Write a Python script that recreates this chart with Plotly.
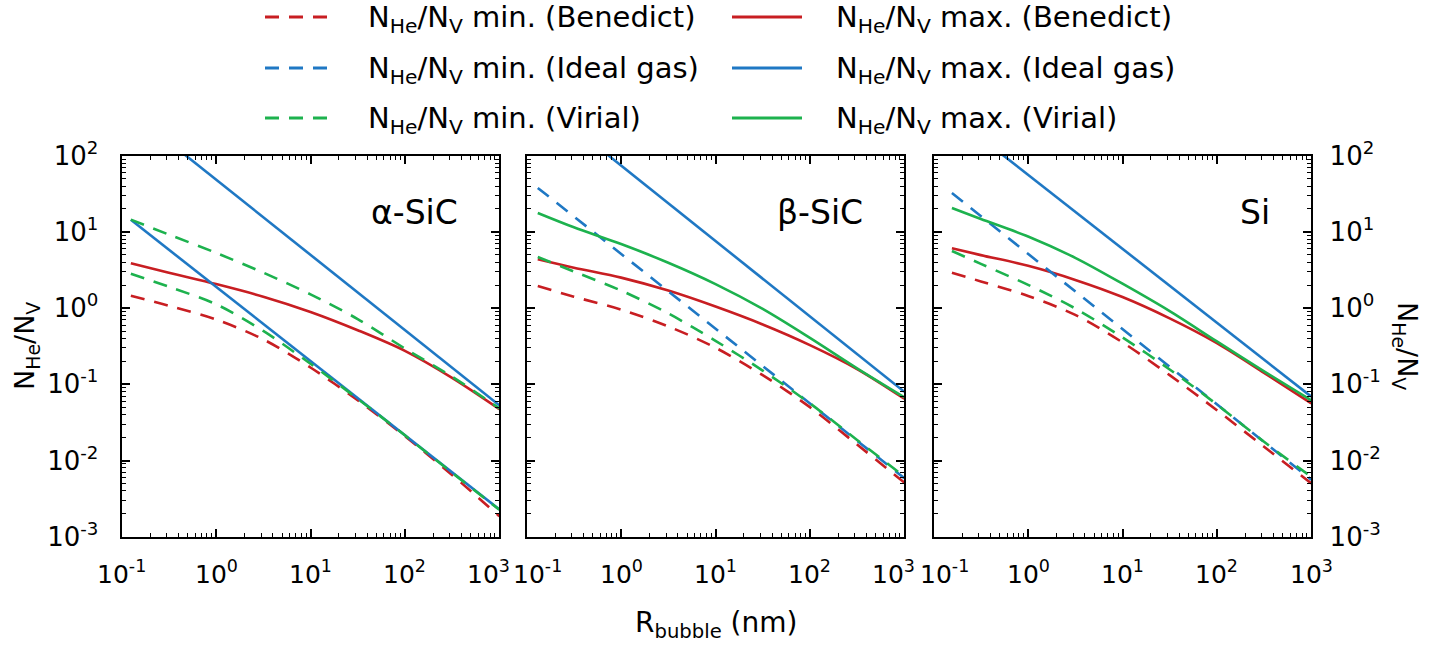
import math
import plotly.graph_objects as go

# ---------------- data ----------------
materials = ["α-SiC", "β-SiC", "Si"]

# bubble radius grid (nm) per panel
r_alpha = [0.125, 0.316, 1, 3.16, 10, 31.6, 100, 316, 1000]
r_beta = [0.131, 0.316, 1, 3.16, 10, 31.6, 100, 316, 1000]
r_si = [0.156, 0.316, 1, 3.16, 10, 31.6, 100, 316, 1000]

# alpha-SiC
benedict_min_alpha = [1.449, 1.072, 0.708, 0.389, 0.166, 0.0617, 0.0209, 0.00646, 0.00186]
benedict_max_alpha = [3.890, 2.917, 2.065, 1.413, 0.891, 0.513, 0.275, 0.1216, 0.0473]
virial_min_alpha = [2.831, 1.905, 1.122, 0.501, 0.186, 0.0646, 0.0214, 0.00692, 0.00226]
virial_max_alpha = [14.49, 9.226, 5.309, 2.917, 1.514, 0.719, 0.295, 0.1259, 0.0484]
ideal_r_alpha = [0.125, 1000]
ideal_min_alpha = [14.4, 0.00228]
ideal_max_alpha = [377.6, 0.0531]

# beta-SiC
benedict_min_beta = [1.950, 1.413, 0.955, 0.575, 0.302, 0.1318, 0.0501, 0.01622, 0.00513]
benedict_max_beta = [4.365, 3.388, 2.512, 1.698, 1.047, 0.610, 0.327, 0.1585, 0.0646]
virial_min_beta = [4.677, 3.020, 1.698, 0.851, 0.372, 0.1514, 0.0562, 0.01862, 0.00617]
virial_max_beta = [17.70, 11.48, 6.918, 3.936, 2.065, 0.977, 0.407, 0.1622, 0.0676]
ideal_r_beta = [0.131, 1000]
ideal_min_beta = [37.8, 0.00587]
ideal_max_beta = [555.0, 0.0796]

# Si
benedict_min_si = [2.917, 2.239, 1.445, 0.813, 0.355, 0.1318, 0.0457, 0.01514, 0.00501]
benedict_max_si = [6.095, 4.955, 3.589, 2.344, 1.396, 0.733, 0.347, 0.1413, 0.0562]
virial_min_si = [5.623, 3.802, 2.018, 0.989, 0.412, 0.1567, 0.0543, 0.01758, 0.00610]
virial_max_si = [20.56, 14.79, 8.710, 4.571, 2.089, 0.912, 0.365, 0.1480, 0.0617]
ideal_r_si = [0.156, 1000]
ideal_min_si = [32.3, 0.00561]
ideal_max_si = [340.0, 0.0687]

x_tickvals = [0.1, 1, 10, 100, 1000]
x_ticktext = ["10<sup>-1</sup>", "10<sup>0</sup>", "10<sup>1</sup>", "10<sup>2</sup>", "10<sup>3</sup>"]
y_tickvals = [0.001, 0.01, 0.1, 1, 10, 100]
y_ticktext = ["10<sup>-3</sup>", "10<sup>-2</sup>", "10<sup>-1</sup>", "10<sup>0</sup>", "10<sup>1</sup>", "10<sup>2</sup>"]

legend_labels = [
    ("N<sub>He</sub>/N<sub>V</sub> min. (Benedict)", "N<sub>He</sub>/N<sub>V</sub> max. (Benedict)"),
    ("N<sub>He</sub>/N<sub>V</sub> min. (Ideal gas)", "N<sub>He</sub>/N<sub>V</sub> max. (Ideal gas)"),
    ("N<sub>He</sub>/N<sub>V</sub> min. (Virial)", "N<sub>He</sub>/N<sub>V</sub> max. (Virial)"),
]

# ---------------- style ----------------
W, H = 1454, 648
RED, BLUE, GREEN = "#C81E22", "#1F78C4", "#1DB24E"
DASH = "14px,10px"
LW = 2.6
FONT = "DejaVu Sans, Liberation Sans, Arial, sans-serif"

panels_px = [(121.7, 499.3), (526.7, 904.3), (933.7, 1311.3)]
top_px, bot_px = 155.7, 536.7
ydom = [1 - bot_px / H, 1 - top_px / H]

fig = go.Figure()

panel_data = [
    dict(r=r_alpha, bmin=benedict_min_alpha, bmax=benedict_max_alpha, vmin=virial_min_alpha,
         vmax=virial_max_alpha, ir=ideal_r_alpha, imin=ideal_min_alpha, imax=ideal_max_alpha,
         imin_dash="solid", vmax_dash=DASH),
    dict(r=r_beta, bmin=benedict_min_beta, bmax=benedict_max_beta, vmin=virial_min_beta,
         vmax=virial_max_beta, ir=ideal_r_beta, imin=ideal_min_beta, imax=ideal_max_beta,
         imin_dash=DASH, vmax_dash="solid"),
    dict(r=r_si, bmin=benedict_min_si, bmax=benedict_max_si, vmin=virial_min_si,
         vmax=virial_max_si, ir=ideal_r_si, imin=ideal_min_si, imax=ideal_max_si,
         imin_dash=DASH, vmax_dash="solid"),
]

SM = 0.9
for i, p in enumerate(panel_data):
    xa = "x" if i == 0 else f"x{i+1}"
    ya = "y" if i == 0 else f"y{i+1}"
    common = dict(xaxis=xa, yaxis=ya, mode="lines", showlegend=False, hoverinfo="skip")
    fig.add_trace(go.Scatter(x=p["r"], y=p["bmin"], name="N_He/N_V min. (Benedict)",
                             line=dict(color=RED, width=LW, dash=DASH, shape="spline", smoothing=SM), **common))
    fig.add_trace(go.Scatter(x=p["r"], y=p["bmax"], name="N_He/N_V max. (Benedict)",
                             line=dict(color=RED, width=LW, shape="spline", smoothing=SM), **common))
    fig.add_trace(go.Scatter(x=p["ir"], y=p["imin"], name="N_He/N_V min. (Ideal gas)",
                             line=dict(color=BLUE, width=LW, dash=p["imin_dash"]), **common))
    fig.add_trace(go.Scatter(x=p["ir"], y=p["imax"], name="N_He/N_V max. (Ideal gas)",
                             line=dict(color=BLUE, width=LW), **common))
    fig.add_trace(go.Scatter(x=p["r"], y=p["vmin"], name="N_He/N_V min. (Virial)",
                             line=dict(color=GREEN, width=LW, dash=DASH, shape="spline", smoothing=SM), **common))
    fig.add_trace(go.Scatter(x=p["r"], y=p["vmax"], name="N_He/N_V max. (Virial)",
                             line=dict(color=GREEN, width=LW, dash=p["vmax_dash"], shape="spline", smoothing=SM),
                             **common))

minor_vals = [m * 10 ** k for k in range(-3, 3) for m in range(2, 10)]
tickfont = dict(family=FONT, size=26, color="black")

layout = dict(
    width=W, height=H, margin=dict(l=0, r=0, t=0, b=0, autoexpand=False),
    paper_bgcolor="white", plot_bgcolor="white",
    font=dict(family=FONT, color="black"),
)
for i, (x0, x1) in enumerate(panels_px):
    xk = "xaxis" if i == 0 else f"xaxis{i+1}"
    yk = "yaxis" if i == 0 else f"yaxis{i+1}"
    ya_ref = "y" if i == 0 else f"y{i+1}"
    xa_ref = "x" if i == 0 else f"x{i+1}"
    layout[xk] = dict(
        type="log", range=[-1, 3], domain=[x0 / W, x1 / W], anchor=ya_ref, automargin=False,
        tickmode="array", tickvals=x_tickvals, ticktext=x_ticktext, showticklabels=False,
        ticks="inside", ticklen=8, tickwidth=1.5, tickcolor="black",
        minor=dict(tickmode="array", tickvals=minor_vals, ticks="inside", ticklen=4,
                   tickwidth=1.2, tickcolor="black", showgrid=False),
        showline=True, linewidth=2.2, linecolor="black", mirror="allticks",
        showgrid=False, zeroline=False,
    )
    layout[yk] = dict(
        type="log", range=[-3, 2], domain=ydom, anchor=xa_ref, automargin=False,
        tickmode="array", tickvals=y_tickvals, ticktext=y_ticktext, tickfont=tickfont,
        ticks="inside", ticklen=8, tickwidth=1.5, tickcolor="black",
        minor=dict(tickmode="array", tickvals=minor_vals, ticks="inside", ticklen=4,
                   tickwidth=1.2, tickcolor="black", showgrid=False),
        showline=True, linewidth=2.2, linecolor="black", mirror="allticks",
        showgrid=False, zeroline=False, ticklabelstandoff=(11 if i == 2 else 16),
        showticklabels=(i != 1), side=("right" if i == 2 else "left"),
    )

annotations = []
# x tick labels, placed on the log axis scale (annotation x is log10 on log axes);
# the crowded labels where panels meet are nudged apart
for i in range(3):
    xa_ref = "x" if i == 0 else f"x{i+1}"
    for j, (tv, tt) in enumerate(zip(x_tickvals, x_ticktext)):
        shift = 0
        if j == 0 and i > 0:
            shift = 11
        if j == len(x_tickvals) - 1 and i < 2:
            shift = -11
        annotations.append(dict(text=tt, xref=xa_ref, yref="paper", x=math.log10(tv), y=1 - 572 / H,
                                xanchor="center", yanchor="middle", xshift=shift, showarrow=False,
                                font=dict(family=FONT, size=25, color="black")))

# panel labels
for i, name in enumerate(materials):
    xa_ref = "x" if i == 0 else f"x{i+1}"
    ya_ref = "y" if i == 0 else f"y{i+1}"
    annotations.append(dict(text=name, xref=f"{xa_ref} domain", yref=f"{ya_ref} domain",
                            x=1 - 39 / 377.6, y=(bot_px - 212) / (bot_px - top_px),
                            xanchor="right", yanchor="middle", showarrow=False,
                            font=dict(family=FONT, size=33, color="black")))
# axis titles
annotations.append(dict(text="N<sub>He</sub>/N<sub>V</sub>", xref="paper", yref="paper",
                        x=26 / W, y=1 - 346 / H, textangle=-90, showarrow=False,
                        xanchor="center", yanchor="middle",
                        font=dict(family=FONT, size=27, color="black")))
annotations.append(dict(text="N<sub>He</sub>/N<sub>V</sub>", xref="paper", yref="paper",
                        x=1406 / W, y=1 - 346 / H, textangle=90, showarrow=False,
                        xanchor="center", yanchor="middle",
                        font=dict(family=FONT, size=27, color="black")))
annotations.append(dict(text="R<sub>bubble</sub> (nm)", xref="paper", yref="paper",
                        x=716 / W, y=1 - 624 / H, showarrow=False,
                        xanchor="center", yanchor="middle",
                        font=dict(family=FONT, size=28, color="black")))

# legend (drawn manually to match the two-column layout)
shapes = []
row_y = [17, 68, 118]
colors = [RED, BLUE, GREEN]
for r, (lab_min, lab_max) in enumerate(legend_labels):
    yy = 1 - row_y[r] / H
    yt = 1 - (row_y[r] + 2) / H
    shapes.append(dict(type="line", xref="paper", yref="paper", x0=265 / W, x1=328 / W, y0=yy, y1=yy,
                       line=dict(color=colors[r], width=3, dash=DASH)))
    shapes.append(dict(type="line", xref="paper", yref="paper", x0=732 / W, x1=802 / W, y0=yy, y1=yy,
                       line=dict(color=colors[r], width=3)))
    annotations.append(dict(text=lab_min, xref="paper", yref="paper", x=366 / W, y=yt,
                            xanchor="left", yanchor="middle", showarrow=False,
                            font=dict(family=FONT, size=29, color="black")))
    annotations.append(dict(text=lab_max, xref="paper", yref="paper", x=834 / W, y=yt,
                            xanchor="left", yanchor="middle", showarrow=False,
                            font=dict(family=FONT, size=29, color="black")))

layout["annotations"] = annotations
layout["shapes"] = shapes
fig.update_layout(**layout)

fig.write_html("out.html")
